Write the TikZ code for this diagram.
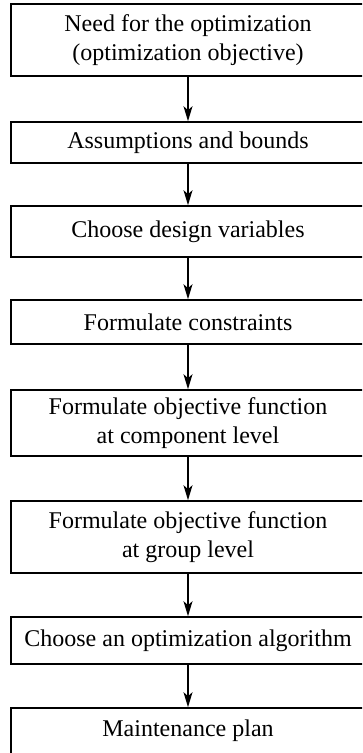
\documentclass[tikz,border=0pt]{standalone}
\usepackage{fontspec}
\setmainfont{Liberation Serif}
\usetikzlibrary{arrows.meta}
\begin{document}
\begin{tikzpicture}[x=1pt,y=1pt,
  box/.style={draw=black,line width=1.6pt,minimum width=354pt,inner sep=0pt,align=center,
    font=\fontsize{24}{29}\selectfont},
  flow/.style={line width=1.6pt,-{Stealth[length=15pt,width=9pt,inset=4pt]}}]
\useasboundingbox (0,0) rectangle (362,-753);
\clip (0,0) rectangle (362,-753);
\fill[white] (0,0) rectangle (362,-753);
\node[box,minimum height=72pt] (b1) at (188,-40) {Need for the optimization\\(optimization objective)};
\node[box,minimum height=41pt] (b2) at (188,-142.5) {Assumptions and bounds};
\node[box,minimum height=51pt] (b3) at (188,-231.5) {Choose design variables};
\node[box,minimum height=44pt] (b4) at (188,-322) {Formulate constraints};
\node[box,minimum height=66pt] (b5) at (188,-423) {Formulate objective function\\at component level};
\node[box,minimum height=72pt] (b6) at (188,-537) {Formulate objective function\\at group level};
\node[box,minimum height=47pt] (b7) at (188,-640.5) {Choose an optimization algorithm};
\node[box,minimum height=46pt] (b8) at (188,-731) {Maintenance plan};
\draw[flow] (b1) -- (b2);
\draw[flow] (b2) -- (b3);
\draw[flow] (b3) -- (b4);
\draw[flow] (b4) -- (b5);
\draw[flow] (b5) -- (b6);
\draw[flow] (b6) -- (b7);
\draw[flow] (b7) -- (b8);
\end{tikzpicture}
\end{document}
